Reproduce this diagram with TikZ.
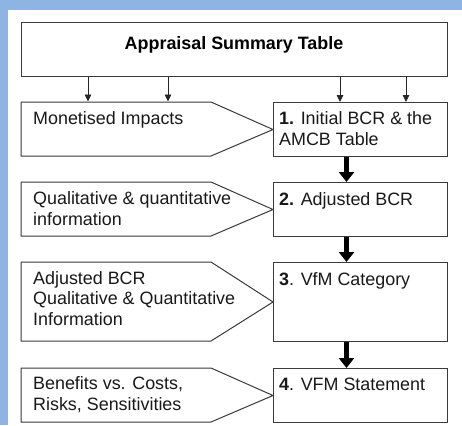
\documentclass[tikz,border=0pt]{standalone}
\usepackage{fontspec}
\setmainfont{Liberation Sans}
\usetikzlibrary{arrows.meta,calc}
\definecolor{frameblue}{HTML}{8EB4E3}
\definecolor{linegray}{HTML}{3A3A3A}
\begin{document}
\begin{tikzpicture}[x=1pt,y=-1pt,
  box/.style={draw=linegray,line width=1pt,rectangle,inner sep=0pt,anchor=north west},
  pent/.style={draw=linegray,line width=1pt,line join=miter},
  txt/.style={inner sep=0pt,anchor=base west,align=left,font=\fontsize{17.9}{20.5}\selectfont,text=black!90},
  thin/.style={draw=black!85,line width=0.9pt,-{Triangle[length=7pt,width=6.5pt]}},
  thick/.style={draw=black,line width=5pt,-{Triangle[length=10pt,width=15pt]}}]
\useasboundingbox (0,0) rectangle (462,425);
\fill[white] (0,0) rectangle (462,425);
\fill[frameblue] (0,0) rectangle (462,10);
\fill[frameblue] (0,0) rectangle (8,425);
% title
\node[box,minimum width=426pt,minimum height=54pt] (ast) at (21,22) {};
\node[inner sep=0pt,anchor=base,font=\fontsize{17.9}{20.5}\selectfont\bfseries] (astt) at (234,50) {Appraisal Summary Table};
% right boxes
\node[box,minimum width=174pt,minimum height=54pt] (b1) at (273,102) {};
\node[box,minimum width=174pt,minimum height=54pt] (b2) at (273,182) {};
\node[box,minimum width=174pt,minimum height=79pt] (b3) at (273,262) {};
\node[box,minimum width=174pt,minimum height=54pt] (b4) at (273,368) {};
% pentagons
\draw[pent] (21,102) -- (211,102) -- (b1.west) -- (211,156) -- (21,156) -- cycle;
\draw[pent] (21,182) -- (211,182) -- (b2.west) -- (211,236) -- (21,236) -- cycle;
\draw[pent] (21,262) -- (211,262) -- (b3.west) -- (211,341) -- (21,341) -- cycle;
\draw[pent] (21,368) -- (211,368) -- (b4.west) -- (211,422) -- (21,422) -- cycle;
% texts (anchor = baseline of last line)
\node[txt] (t1l) at (33,124) {Monetised Impacts};
\node[txt] (t1r) at (279,145) {\textbf{1.} Initial BCR \& the\\AMCB Table};
\node[txt] (t2l) at (33,225) {Qualitative \& quantitative\\information};
\node[txt] (t2r) at (279,205) {\textbf{2.} Adjusted BCR};
\node[txt] (t3l) at (33,325) {Adjusted BCR\\Qualitative \& Quantitative\\Information};
\node[txt] (t3r) at (279,285) {\textbf{3}. VfM Category};
\node[txt] (t4l) at (33,410) {Benefits vs. Costs,\\Risks, Sensitivities};
\node[txt] (t4r) at (279,390) {\textbf{4}. VFM Statement};
% thin arrows
\foreach \xx in {88,168}{
  \draw[thin] (ast.south west -| \xx,0) -- (\xx,101.5);
}
\foreach \xx in {340,406}{
  \draw[thin] (ast.south west -| \xx,0) -- (b1.north west -| \xx,0);
}
% thick arrows
\draw[thick] ([xshift=-14pt]b1.south) -- ([xshift=-14pt]b2.north);
\draw[thick] ([xshift=-14pt]b2.south) -- ([xshift=-14pt]b3.north);
\draw[thick] ([xshift=-14pt]b3.south) -- ([xshift=-14pt]b4.north);
\end{tikzpicture}
\end{document}
